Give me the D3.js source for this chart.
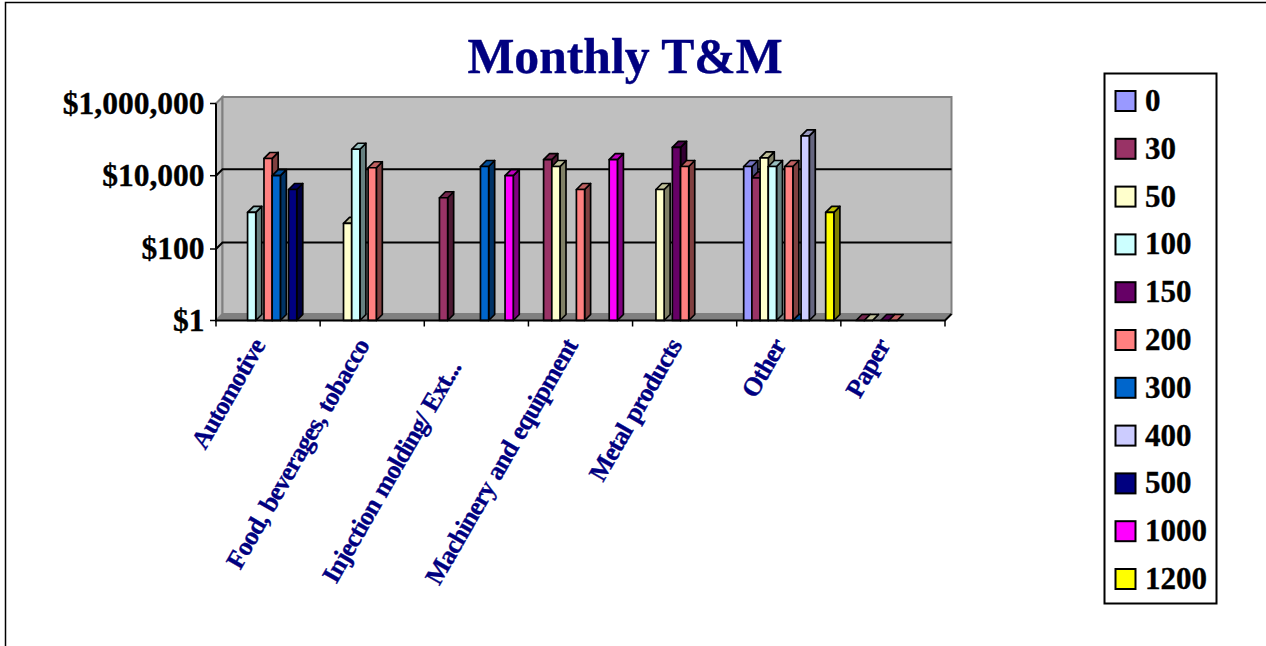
<!DOCTYPE html>
<html><head><meta charset="utf-8"><script src="https://cdn.jsdelivr.net/npm/d3@7/dist/d3.min.js"></script>
<style>html,body{margin:0;background:#fff}svg{display:block}text{font-family:"Liberation Serif",serif;font-weight:bold;stroke-width:.35px;paint-order:stroke}</style></head>
<body><div id="c"></div><script>
const categories=["Automotive","Food, beverages, tobacco","Injection molding/ Ext...","Machinery and equipment","Metal products","Other","Paper"];
const seriesNames=["0","30","50","100","150","200","300","400","500","1000","1200"];
const colors=["#9999ff","#993366","#ffffcc","#ccffff","#660066","#ff8080","#0066cc","#ccccff","#000080","#ff00ff","#ffff00"];
const s0=[null,null,null,null,null,18000,null];
const s30=[null,null,2500,28000,null,8700,1];
const s50=[null,500,null,18000,4200,31000,1];
const s100=[1000,54000,null,null,null,18000,null];
const s150=[null,null,null,null,61000,null,1];
const s200=[30000,16600,null,4200,18000,18000,1];
const s300=[10000,null,18000,null,null,1,null];
const s400=[null,null,null,null,null,127000,null];
const s500=[4200,null,null,null,null,null,null];
const s1000=[null,null,10000,28000,null,null,null];
const s1200=[null,null,null,null,null,1000,null];
const seriesValues=[s0,s30,s50,s100,s150,s200,s300,s400,s500,s1000,s1200];
const yTicks=[1,100,10000,1000000];

const W=1266,H=646,dx=6.5,dy=6.5;
const svg=d3.select("#c").append("svg").attr("width",W).attr("height",H);
svg.append("path").attr("d",`M5.5,${H}V2.5H${W}`).attr("fill","none").attr("stroke","#000").attr("stroke-width",1.5);
svg.append("text").attr("x",625).attr("y",73).attr("text-anchor","middle").attr("fill","#000080").attr("stroke","#000080").attr("font-size",49.7).text("Monthly T&M");

const x=d3.scaleBand().domain(categories).range([216,945]);
const xs=d3.scaleBand().domain(seriesNames).range([0,x.bandwidth()]).paddingOuter(0.85).paddingInner(0);
const y=d3.scaleLog().domain(yTicks).range([320.5,249,175.7,103.5]);
const shade=(c,k)=>{const r=d3.rgb(c);return d3.rgb(r.r*k,r.g*k,r.b*k)+""};

// walls
const g=svg.append("g");
g.append("path").attr("d",`M216,${y(1)}l${dx},${-dy}V${y(1e6)-dy}l${-dx},${dy}Z`).attr("fill","#c0c0c0").attr("stroke","#808080").attr("stroke-width",2);
g.append("rect").attr("x",216+dx).attr("y",y(1e6)-dy).attr("width",945-216).attr("height",y(1)-y(1e6)).attr("fill","#c0c0c0").attr("stroke","#808080").attr("stroke-width",2);
g.append("path").attr("d",`M216,${y(1)}l${dx},${-dy}H${945+dx}l${-dx},${dy}Z`).attr("fill","#808080").attr("stroke","#808080");
// gridlines
yTicks.slice(1,3).forEach(t=>{
 g.append("path").attr("d",`M216,${y(t)}l${dx},${-dy}H${945+dx}`).attr("fill","none").attr("stroke","#000").attr("stroke-width",2);
});
// bars
const bars=[];
seriesValues.forEach((vals,i)=>vals.forEach((v,j)=>{if(v!=null)bars.push({i,j,v})}));
bars.sort((a,b)=>a.j-b.j||a.i-b.i);
const barW=xs.bandwidth();
const bg=svg.append("g").attr("stroke","#000").attr("stroke-width",1.7).attr("stroke-linejoin","round");
bars.forEach(b=>{
 const x0=x(categories[b.j])+xs(seriesNames[b.i]),x1=x0+barW,yt=y(b.v),yb=y(1),c=colors[b.i];
 const d=6;
 bg.append("path").attr("d",`M${x1},${yb}V${yt}l${d},${-d}V${yb-d}Z`).attr("fill",shade(c,0.5));
 bg.append("path").attr("d",`M${x0},${yt}l${d},${-d}H${x1+d}l${-d},${d}Z`).attr("fill",shade(c,0.75));
 if(b.v>1)bg.append("rect").attr("x",x0).attr("y",yt).attr("width",barW).attr("height",yb-yt).attr("fill",c);
});
// axes
const ax=svg.append("g");
ax.append("path").attr("d",`M216,${y(1e6)-0}V${y(1)}H945l${dx},${-dy}`).attr("fill","none").attr("stroke","#000").attr("stroke-width",2);
const xt=[...categories.map(c=>x(c)),945];
xt.forEach(t=>ax.append("line").attr("x1",t).attr("x2",t).attr("y1",y(1)).attr("y2",y(1)+6).attr("stroke","#000").attr("stroke-width",1.5));
yTicks.forEach(t=>{
 ax.append("line").attr("x1",210).attr("x2",216).attr("y1",y(t)).attr("y2",y(t)).attr("stroke","#000").attr("stroke-width",1.5);
 ax.append("text").attr("x",204.5).attr("y",y(t)+10).attr("text-anchor","end").attr("font-size",31.5).attr("fill","#000").attr("stroke","#000").text("$"+d3.format(",")(t));
});
// category labels; a truncated label ends further from the axis
categories.forEach(c=>{
 const px=x(c)+x.bandwidth()/2-10;
 ax.append("text").attr("transform",`translate(${px},341) rotate(-60)`).attr("text-anchor","end").attr("x",c.endsWith("...")?-25:0).attr("fill","#000080").attr("stroke","#000080").attr("font-size",26).attr("letter-spacing",-0.85).attr("word-spacing",1.5).attr("dy","0.35em").text(c);
});
// legend
svg.append("rect").attr("x",1104.5).attr("y",73.5).attr("width",112).attr("height",530).attr("fill","#fff").attr("stroke","#000").attr("stroke-width",2);
const ly=d3.scalePoint().domain(seriesNames).range([101,579]);
seriesNames.forEach((n,i)=>{
 svg.append("rect").attr("x",1115.5).attr("y",ly(n)-10).attr("width",20).attr("height",20).attr("fill",colors[i]).attr("stroke","#000").attr("stroke-width",2);
 svg.append("text").attr("x",1145).attr("y",ly(n)+10).attr("font-size",31).attr("fill","#000").attr("stroke","#000").text(n);
});
</script></body></html>
